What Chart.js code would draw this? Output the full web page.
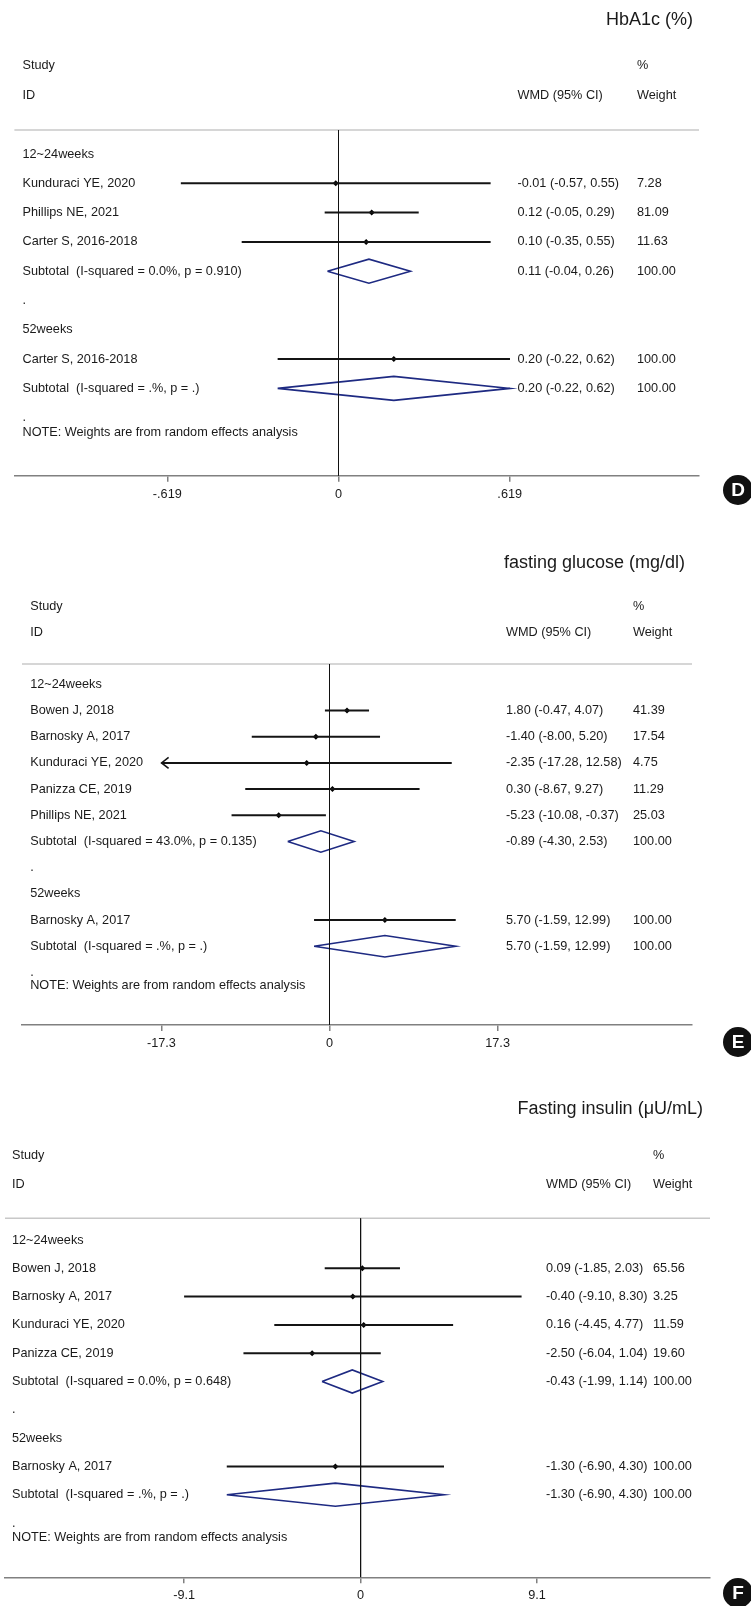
<!DOCTYPE html>
<html>
<head>
<meta charset="utf-8">
<script src="https://cdn.jsdelivr.net/npm/chart.js@4.4.1/dist/chart.umd.min.js"></script>
<style>
  html, body { margin: 0; padding: 0; background: #fff; }
  body { width: 751px; height: 1606px; position: relative; overflow: hidden; }
  canvas { position: absolute; left: 0; }
</style>
</head>
<body>
<canvas id="chartD" width="751" height="520" style="top:0px"></canvas>
<canvas id="chartE" width="751" height="540" style="top:520px"></canvas>
<canvas id="chartF" width="751" height="546" style="top:1060px"></canvas>
<script>
// ---- HbA1c (%) ----
const hbaLabels = ['12~24weeks', 'Kunduraci YE, 2020', 'Phillips NE, 2021', 'Carter S, 2016-2018',
  'Subtotal  (I-squared = 0.0%, p = 0.910)', '.', '52weeks', 'Carter S, 2016-2018',
  'Subtotal  (I-squared = .%, p = .)', '.'];
const hbaEst = [null, -0.01, 0.12, 0.10, 0.11, null, null, 0.20, 0.20, null];
const hbaLow = [null, -0.57, -0.05, -0.35, -0.04, null, null, -0.22, -0.22, null];
const hbaHigh = [null, 0.55, 0.29, 0.55, 0.26, null, null, 0.62, 0.62, null];
const hbaWeight = [null, 7.28, 81.09, 11.63, 100.00, null, null, 100.00, 100.00, null];
const hbaTicks = [-0.619, 0, 0.619];
const hbaTickLabels = ['-.619', '0', '.619'];

// ---- fasting glucose (mg/dl) ----
const gluLabels = ['12~24weeks', 'Bowen J, 2018', 'Barnosky A, 2017', 'Kunduraci YE, 2020',
  'Panizza CE, 2019', 'Phillips NE, 2021', 'Subtotal  (I-squared = 43.0%, p = 0.135)', '.',
  '52weeks', 'Barnosky A, 2017', 'Subtotal  (I-squared = .%, p = .)', '.'];
const gluEst = [null, 1.80, -1.40, -2.35, 0.30, -5.23, -0.89, null, null, 5.70, 5.70, null];
const gluLow = [null, -0.47, -8.00, -17.28, -8.67, -10.08, -4.30, null, null, -1.59, -1.59, null];
const gluHigh = [null, 4.07, 5.20, 12.58, 9.27, -0.37, 2.53, null, null, 12.99, 12.99, null];
const gluWeight = [null, 41.39, 17.54, 4.75, 11.29, 25.03, 100.00, null, null, 100.00, 100.00, null];
const gluArrowLeft = [false, false, false, true, false, false, false, false, false, false, false, false];
const gluTicks = [-17.3, 0, 17.3];
const gluTickLabels = ['-17.3', '0', '17.3'];

// ---- Fasting insulin (µU/mL) ----
const insLabels = ['12~24weeks', 'Bowen J, 2018', 'Barnosky A, 2017', 'Kunduraci YE, 2020',
  'Panizza CE, 2019', 'Subtotal  (I-squared = 0.0%, p = 0.648)', '.', '52weeks',
  'Barnosky A, 2017', 'Subtotal  (I-squared = .%, p = .)', '.'];
const insEst = [null, 0.09, -0.40, 0.16, -2.50, -0.43, null, null, -1.30, -1.30, null];
const insLow = [null, -1.85, -9.10, -4.45, -6.04, -1.99, null, null, -6.90, -6.90, null];
const insHigh = [null, 2.03, 8.30, 4.77, 1.04, 1.14, null, null, 4.30, 4.30, null];
const insWeight = [null, 65.56, 3.25, 11.59, 19.60, 100.00, null, null, 100.00, 100.00, null];
const insTicks = [-9.1, 0, 9.1];
const insTickLabels = ['-9.1', '0', '9.1'];

const noteText = 'NOTE: Weights are from random effects analysis';
const FONT = '"Liberation Sans", Arial, Helvetica, sans-serif';
const AXIS_H = 28;

Chart.defaults.font.family = FONT;

function fmt(v) { return v.toFixed(2); }

function buildForest(id, p, lay) {
  const top = lay.top;
  const xMin = (lay.areaLeft - lay.zeroX) / lay.pxPerUnit;
  const xMax = (lay.areaRight - lay.zeroX) / lay.pxPerUnit;
  const yMin = (lay.areaTop - lay.row0) / lay.rowStep;
  const yMax = (lay.areaBottom - lay.row0) / lay.rowStep;

  const datasets = [];
  // line of no effect
  datasets.push({ data: [{ x: 0, y: yMin }, { x: 0, y: yMax }], borderColor: '#111', borderWidth: 1, pointRadius: 0 });
  const pts = [];
  p.labels.forEach((lab, i) => {
    if (p.est[i] == null) return;
    if (lab.startsWith('Subtotal')) {
      const h = 0.41;
      datasets.push({
        data: [{ x: p.low[i], y: i }, { x: p.est[i], y: i - h }, { x: p.high[i], y: i },
               { x: p.est[i], y: i + h }, { x: p.low[i], y: i }],
        borderColor: '#1e2a82', borderWidth: 1.6, pointRadius: 0, borderJoinStyle: 'miter'
      });
    } else {
      datasets.push({ data: [{ x: p.low[i], y: i }, { x: p.high[i], y: i }], borderColor: '#141414', borderWidth: 2, pointRadius: 0 });
      pts.push({ x: p.est[i], y: i });
    }
  });
  datasets.push({ data: pts, showLine: false, pointStyle: 'rectRot', pointRadius: 3, backgroundColor: '#000', borderColor: '#000', borderWidth: 0 });

  const textPlugin = {
    id: 'forestText',
    beforeDatasetsDraw(chart) {
      const ctx = chart.ctx, a = chart.chartArea;
      ctx.save();
      ctx.strokeStyle = '#c8c8c8';
      ctx.lineWidth = 1.5;
      ctx.beginPath();
      ctx.moveTo(a.left, a.top);
      ctx.lineTo(a.right, a.top);
      ctx.stroke();
      ctx.restore();
    },
    afterDatasetsDraw(chart) {
      const ctx = chart.ctx, ys = chart.scales.y, xs = chart.scales.x;
      ctx.save();
      // arrows for truncated intervals
      if (p.arrowLeft) {
        ctx.strokeStyle = '#141414';
        ctx.lineWidth = 1.6;
        p.arrowLeft.forEach((on, i) => {
          if (!on) return;
          const x = xs.getPixelForValue(p.low[i]), y = ys.getPixelForValue(i);
          ctx.beginPath();
          ctx.moveTo(x + 7, y - 5.5);
          ctx.lineTo(x, y);
          ctx.lineTo(x + 7, y + 5.5);
          ctx.stroke();
        });
      }
      ctx.fillStyle = '#1a1a1a';
      ctx.textBaseline = 'middle';
      ctx.textAlign = 'left';
      ctx.font = '12.7px ' + FONT;
      ctx.fillText('Study', lay.labelX, lay.studyY - top);
      ctx.fillText('ID', lay.labelX, lay.idY - top);
      ctx.fillText('%', lay.weightX, lay.studyY - top);
      ctx.fillText('WMD (95% CI)', lay.wmdX, lay.idY - top);
      ctx.fillText('Weight', lay.weightX, lay.idY - top);
      p.labels.forEach((lab, i) => {
        const y = ys.getPixelForValue(i);
        ctx.fillText(lab, lay.labelX, y);
        if (p.est[i] != null) {
          ctx.fillText(fmt(p.est[i]) + ' (' + fmt(p.low[i]) + ', ' + fmt(p.high[i]) + ')', lay.wmdX, y);
          ctx.fillText(fmt(p.weight[i]), lay.weightX, y);
        }
      });
      ctx.fillText(noteText, lay.labelX, ys.getPixelForValue(p.labels.length - 0.5));
      // title
      ctx.font = '18px ' + FONT;
      ctx.textAlign = 'right';
      ctx.fillText(p.title, lay.titleRight, lay.titleY - top);
      // panel badge
      ctx.fillStyle = '#111';
      ctx.beginPath();
      ctx.arc(738, lay.badgeY - top, 15, 0, Math.PI * 2);
      ctx.fill();
      ctx.fillStyle = '#fff';
      ctx.textAlign = 'center';
      ctx.font = 'bold 19px ' + FONT;
      ctx.fillText(p.badge, 738, lay.badgeY - top + 1);
      ctx.restore();
    }
  };

  return new Chart(document.getElementById(id), {
    type: 'line',
    data: { datasets },
    options: {
      responsive: false,
      animation: false,
      events: [],
      layout: {
        padding: {
          top: lay.areaTop - top,
          bottom: top + lay.height - lay.areaBottom - AXIS_H,
          left: lay.areaLeft,
          right: 751 - lay.areaRight
        }
      },
      plugins: { legend: { display: false }, tooltip: { enabled: false } },
      scales: {
        x: {
          type: 'linear', min: xMin, max: xMax,
          afterBuildTicks: s => { s.ticks = p.ticks.map(v => ({ value: v })); },
          afterFit: s => { s.height = AXIS_H; },
          ticks: {
            callback: (v, i) => p.tickLabels[i],
            color: '#1a1a1a', font: { size: 12.7 }, padding: 5, maxRotation: 0, autoSkip: false
          },
          grid: { drawOnChartArea: false, drawTicks: true, tickLength: 6, color: '#808080', lineWidth: 1.5 },
          border: { display: true, color: '#808080', width: 1.5 }
        },
        y: { type: 'linear', reverse: true, min: yMin, max: yMax, display: false }
      }
    },
    plugins: [textPlugin]
  });
}

buildForest('chartD',
  { labels: hbaLabels, est: hbaEst, low: hbaLow, high: hbaHigh, weight: hbaWeight,
    ticks: hbaTicks, tickLabels: hbaTickLabels, title: 'HbA1c (%)', badge: 'D' },
  { top: 0, height: 520, areaTop: 130, areaBottom: 475.7, areaLeft: 14.4, areaRight: 699,
    zeroX: 338.5, pxPerUnit: 276.6, row0: 154, rowStep: 29.3,
    labelX: 22.5, wmdX: 517.5, weightX: 637, titleRight: 693, titleY: 20, studyY: 65.7, idY: 95, badgeY: 490 });

buildForest('chartE',
  { labels: gluLabels, est: gluEst, low: gluLow, high: gluHigh, weight: gluWeight, arrowLeft: gluArrowLeft,
    ticks: gluTicks, tickLabels: gluTickLabels, title: 'fasting glucose (mg/dl)', badge: 'E' },
  { top: 520, height: 540, areaTop: 664, areaBottom: 1025, areaLeft: 22, areaRight: 692,
    zeroX: 329.5, pxPerUnit: 9.717, row0: 684.3, rowStep: 26.2,
    labelX: 30.2, wmdX: 506, weightX: 633, titleRight: 685, titleY: 563.3, studyY: 606.7, idY: 632.7, badgeY: 1042 });

buildForest('chartF',
  { labels: insLabels, est: insEst, low: insLow, high: insHigh, weight: insWeight,
    ticks: insTicks, tickLabels: insTickLabels, title: 'Fasting insulin (\u03bcU/mL)', badge: 'F' },
  { top: 1060, height: 546, areaTop: 1218.3, areaBottom: 1577.3, areaLeft: 5, areaRight: 710,
    zeroX: 360.6, pxPerUnit: 19.396, row0: 1240, rowStep: 28.3,
    labelX: 12, wmdX: 546, weightX: 653, titleRight: 703, titleY: 1109.3, studyY: 1155.7, idY: 1184, badgeY: 1593 });
</script>
</body>
</html>
